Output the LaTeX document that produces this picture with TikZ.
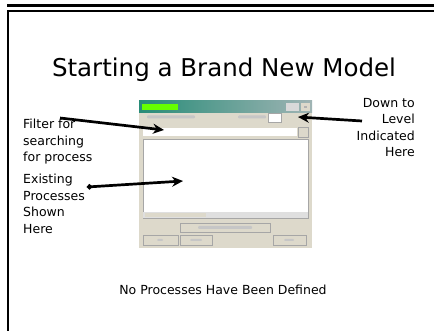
\documentclass[tikz,border=0pt]{standalone}
\usepackage{fontspec}
\setmainfont{DejaVu Sans}
\usepackage{xcolor}
\usetikzlibrary{arrows.meta, positioning}

\definecolor{winface}{RGB}{221,217,203}
\definecolor{wintitle}{RGB}{40,140,120}
\definecolor{wintitleend}{RGB}{160,180,180}

\begin{document}
\begin{tikzpicture}[x=1pt, y=-1pt,
      note/.style = {font=\fontsize{12.5}{16.5}\selectfont, inner sep=0pt},
      pointer/.style = {line width=2.7pt, -{Stealth[length=11pt, width=10pt]}},
      winbtn/.style = {fill=winface, draw=gray!70, line width=0.7pt},
      blur/.style = {fill=gray!45, rounded corners=1pt} ]

\useasboundingbox (0,0) rectangle (434,331);
% slide frame
\fill (7,4) rectangle (434,7);
\draw[line width=2pt] (8,331) |- (434,11);

\node (title) at (224,70) {\fontsize{24.5}{29}\selectfont Starting a Brand New Model};

% the dialog box
\fill[winface] (139,101) rectangle (312,248);
\shade[left color=wintitle, right color=wintitleend] (139,101) rectangle (312,113);
\fill[green!60!yellow] (142,104) rectangle (178,110);
\fill[gray!30] (286,103) rectangle (299,111);
\fill[winface] (301,103) rectangle (310,111);
\fill[gray!60] (304,106) rectangle (307,108);
\fill[blur] (147,115.5) rectangle (195,118.5);
\fill[blur] (238,115.5) rectangle (266,118.5);
\draw[winbtn, fill=white] (268,113) rectangle (281,122);
\fill[white] (143,128) rectangle (297,136);
\draw[winbtn] (298,127) rectangle (308,137);
\draw[gray!70, fill=white] (143,139) rectangle (308,218);
\fill[gray!25] (143,212) rectangle (308,218);
\fill[winface] (145,213) rectangle (206,217);
\draw[winbtn] (180,223) rectangle (270,232);
\fill[blur] (198,226) rectangle (252,229);
\draw[winbtn] (143,235) rectangle (178,245);
\draw[winbtn] (180,235) rectangle (212,245);
\draw[winbtn] (273,235) rectangle (306,245);
\fill[blur] (157,239) rectangle (163,241);
\fill[blur] (190,239) rectangle (202,241);
\fill[blur] (284,239) rectangle (294,241);

\coordinate (filterbox) at (164,130);
\coordinate (listarea)  at (183,181);
\coordinate (levelbox)  at (298,117);

% labels round the dialog
\node[note, align=left, anchor=north west] (filter) at (23,119)
     {Filter for\\searching\\for process};
\node[note, align=left, anchor=north west] (existing) at (23,174)
     {Existing\\Processes\\Shown\\Here};
\node[note, align=right, anchor=north east] (level) at (415,98)
     {Down to\\Level\\Indicated\\Here};

\coordinate (filtertail) at (60,118);
\coordinate (existtail)  at (87,187);
\coordinate (leveltail)  at (362,121);

\draw[pointer] (filtertail) -- (filterbox);
\draw[pointer, {Circle[length=5pt]}-{Stealth[length=11pt, width=10pt]}] (existtail) -- (listarea);
\draw[pointer] (leveltail) -- (levelbox);

\node (nonedef) at (223,290) {\fontsize{12.5}{15}\selectfont No Processes Have Been Defined};
\end{tikzpicture}
\end{document}
